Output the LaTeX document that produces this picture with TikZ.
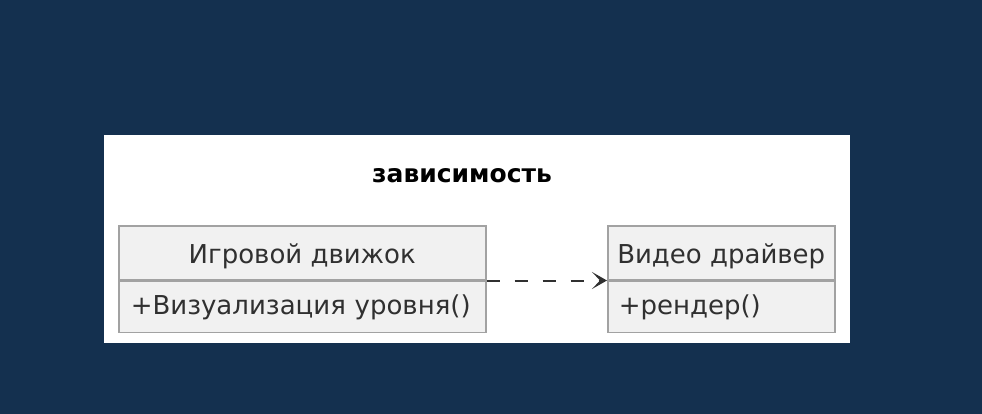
\documentclass[tikz,border=0pt]{standalone}
\usepackage{fontspec}
\setmainfont{DejaVu Sans}
\usetikzlibrary{arrows.meta,positioning}
\definecolor{umlnavy}{HTML}{14304F}
\definecolor{umlframe}{HTML}{A2A2A2}
\definecolor{umlfill}{HTML}{F1F1F1}
\definecolor{umlink}{HTML}{303030}

\begin{document}
\begin{tikzpicture}[
    x=1pt, y=-1pt,
    font=\fontsize{26}{30}\selectfont,
    classhead/.style={draw=umlframe, fill=umlfill, line width=1.5pt,
      minimum height=54pt, inner sep=0pt, text=umlink,
      text height=26pt, text depth=5.5pt},
    classbody/.style={classhead, minimum height=51pt, text width=#1, align=left,
      text height=20pt, text depth=5.5pt},
    depend/.style={-{Stealth[length=15pt,width=17pt,inset=8pt]},
      line width=2pt, dash pattern=on 13pt off 15pt, draw=umlink}
  ]
    \useasboundingbox (0,0) rectangle (982,414);
    \fill[umlnavy] (0,0) rectangle (982,414);
    \fill[white] (104,135) rectangle (850,343);

    \node[font=\fontsize{25}{29}\selectfont\bfseries, text=black] (title) at (462,176) {зависимость};

    % left class
    \node[classhead, minimum width=367pt, anchor=north west] (engine) at (118,225) {Игровой движок};
    \node[classbody=343pt, minimum width=367pt, below=0pt of engine] (engineops) {+Визуализация уровня()};

    % right class
    \node[classhead, minimum width=227pt, anchor=north west] (driver) at (607,225) {Видео драйвер};
    \node[classbody=205pt, minimum width=227pt, below=0pt of driver] (driverops) {+рендер()};

    \draw[depend] (engine.south east) -- (driver.south west);
\end{tikzpicture}
\end{document}
